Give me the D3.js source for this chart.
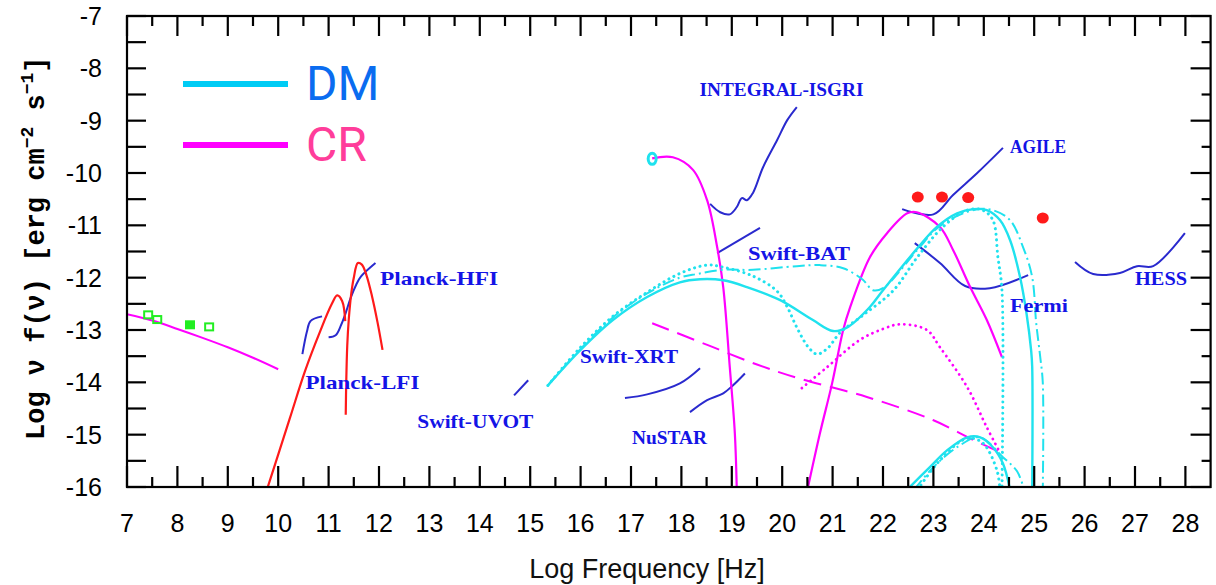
<!DOCTYPE html>
<html><head><meta charset="utf-8">
<script src="https://cdn.jsdelivr.net/npm/d3@7"></script>
<style>body{margin:0;background:#fff}svg{display:block}</style>
</head><body>
<svg id="c" width="1216" height="585"></svg>
<script>
// ---------- data (log frequency [Hz], log nu f(nu)) ----------
const xTickLabels = [7,8,9,10,11,12,13,14,15,16,17,18,19,20,21,22,23,24,25,26,27,28];
const yTickLabels = [-7,-8,-9,-10,-11,-12,-13,-14,-15,-16];

// DM (cyan)
const dmSolid = [[15.35,-14.06],[15.99,-13.39],[16.64,-12.81],[17.32,-12.37],[17.97,-12.09],[18.37,-12.03],[18.83,-12.05],[19.30,-12.18],[19.96,-12.43],[20.61,-12.81],[21.01,-13.02],[21.29,-12.95],[21.74,-12.56],[22.0,-12.24],[22.68,-11.44],[23.07,-11.03],[23.47,-10.77],[23.79,-10.69],[24.06,-10.71],[24.32,-10.90],[24.52,-11.28],[24.72,-11.99],[24.85,-12.7],[24.94,-13.4],[24.96,-13.7],[24.96,-16.1]];
const dmDotted = [[15.35,-14.06],[16.0,-13.33],[16.64,-12.74],[17.32,-12.28],[17.97,-11.92],[18.51,-11.76],[18.83,-11.80],[19.42,-11.97],[19.90,-12.26],[20.10,-12.56],[20.29,-12.95],[20.52,-13.33],[20.69,-13.46],[20.90,-13.35],[21.15,-13.05],[21.6,-12.72],[22.2,-12.25],[22.68,-11.61],[23.19,-11.03],[23.67,-10.71],[23.98,-10.71],[24.18,-10.90],[24.28,-11.61],[24.36,-12.24],[24.36,-16.1]];
const dmDashDot = [[15.35,-14.06],[16.0,-13.36],[16.64,-12.76],[17.32,-12.30],[17.97,-12.0],[18.31,-11.93],[18.83,-11.85],[19.42,-11.85],[20.29,-11.78],[20.75,-11.76],[21.21,-11.82],[21.6,-12.04],[21.8,-12.24],[22.0,-12.20],[22.68,-11.47],[23.07,-11.06],[23.47,-10.82],[23.90,-10.69],[24.18,-10.71],[24.52,-10.90],[24.78,-11.42],[24.96,-11.99],[25.04,-12.87],[25.12,-13.52],[25.17,-14.0],[25.17,-16.1]];
const dmSolidLow = [[22.48,-16.05],[22.93,-15.62],[23.27,-15.30],[23.67,-15.05],[23.93,-15.05],[24.18,-15.24],[24.38,-15.55],[24.52,-16.05]];
const dmDottedLow = [[22.69,-16.05],[23.13,-15.49],[23.67,-15.07],[23.98,-15.16],[24.26,-15.68],[24.32,-16.05]];
const dmDashDotLow = [[22.62,-16.05],[23.0,-15.62],[23.5,-15.22],[23.92,-15.05],[24.38,-15.43],[24.66,-15.70],[24.80,-16.05]];
const dmMarker = [[17.42,-9.73]];

// CR (magenta)
const crRadio = [[7,-12.7],[7.5,-12.82],[8,-12.98],[8.5,-13.15],[9,-13.33],[9.5,-13.53],[10,-13.75]];
const crXray = [[17.42,-9.72],[17.83,-9.70],[18.23,-9.94],[18.51,-10.52],[18.71,-11.42],[18.83,-12.18],[18.96,-13.71],[19.06,-14.97],[19.10,-16.1]];
const crGamma = [[20.49,-16.1],[20.75,-14.97],[20.99,-14.02],[21.21,-13.0],[21.35,-12.56],[21.74,-11.61],[22.08,-11.15],[22.48,-10.77],[22.67,-10.75],[23.13,-11.03],[23.39,-11.47],[23.73,-12.18],[24.06,-12.81],[24.36,-13.52]];
const crDashed = [[17.42,-12.87],[18.5,-13.28],[19.5,-13.66],[20.35,-13.93],[21.68,-14.28],[22.99,-14.72],[23.79,-15.10],[24.38,-15.36]];
const crDotted = [[20.39,-14.11],[20.89,-13.71],[21.54,-13.19],[22.0,-12.98],[22.34,-12.89],[22.87,-13.0],[23.13,-13.33],[23.67,-14.09],[24.06,-14.86],[24.32,-15.34]];

// Planck thermal (red)
const redA = [[9.76,-16.1],[10.23,-14.69],[10.53,-13.79],[10.83,-13.03],[11.06,-12.51],[11.17,-12.34],[11.27,-12.45],[11.33,-12.83]];
const redB = [[11.34,-14.62],[11.35,-14.0],[11.37,-13.3],[11.40,-12.8],[11.45,-12.3],[11.50,-12.0],[11.58,-11.72],[11.66,-11.75],[11.75,-11.95],[11.86,-12.35],[11.97,-12.85],[12.07,-13.38]];

// sensitivities (blue)
const planckLFI = [[10.48,-13.46],[10.57,-13.03],[10.64,-12.83],[10.87,-12.74]];
const planckHFI = [[11.0,-13.14],[11.14,-13.10],[11.25,-12.9],[11.33,-12.7],[11.44,-12.38],[11.55,-12.13],[11.64,-11.98],[11.93,-11.72]];
const swiftUVOT = [[14.68,-14.25],[14.96,-13.96]];
const swiftXRT = [[16.88,-14.30],[17.32,-14.23],[17.97,-14.02],[18.37,-13.73]];
const nuSTAR = [[18.17,-14.57],[18.51,-14.34],[18.83,-14.21],[19.02,-14.06],[19.26,-13.83]];
const swiftBAT = [[18.71,-11.53],[19.56,-11.05]];
const integral = [[18.57,-10.59],[18.77,-10.75],[18.96,-10.79],[19.10,-10.65],[19.20,-10.48],[19.30,-10.52],[19.42,-10.38],[19.62,-9.89],[19.90,-9.37],[20.10,-8.99],[20.29,-8.74]];
const agile = [[22.38,-10.69],[23.0,-10.79],[23.39,-10.42],[23.87,-10.0],[24.38,-9.52]];
const fermi = [[22.63,-11.34],[23.13,-11.72],[23.63,-12.16],[24.12,-12.2],[24.88,-11.95]];
const hess = [[25.81,-11.7],[26.17,-11.93],[26.70,-11.91],[27.04,-11.78],[27.36,-11.78],[27.99,-11.15]];

// measured points
const greenPoints = [[7.42,-12.72],[7.60,-12.81],[8.25,-12.91],[8.63,-12.95]];
const redPoints = [[22.69,-10.46],[23.17,-10.46],[23.69,-10.47],[25.17,-10.86]];

// instrument labels: [text, x(log Hz), y(log flux), width px]
const instrumentLabels = [
  ["INTEGRAL-ISGRI",18.36,-8.52,164],
  ["AGILE",24.52,-9.62,56],
  ["Planck-HFI",12.02,-12.14,118],
  ["Swift-BAT",19.32,-11.67,102],
  ["HESS",27.0,-12.14,52],
  ["Fermi",24.52,-12.66,58],
  ["Planck-LFI",10.54,-14.13,114],
  ["Swift-XRT",15.99,-13.64,98],
  ["Swift-UVOT",12.76,-14.88,116],
  ["NuSTAR",17.02,-15.17,75]
];
const legendItems = [["DM","#00ccf5","#0a6cf0"],["CR","#ff00ff","#ff3d9a"]];

// ---------- drawing ----------
const svg = d3.select("#c");
const x = d3.scaleLinear().domain([7,28.5]).range([127,1210.6]);
const y = d3.scaleLinear().domain([-16,-7]).range([487,16]);
const X0=x(7), X1=x(28.5), Y0=y(-7), Y1=y(-16);

const CYAN="#1fe2ee", MAG="#ff00ff", BLUE="#2a2ace", RED="#ff1a1a";

svg.append("defs").append("clipPath").attr("id","clip")
  .append("rect").attr("x",X0).attr("y",Y0).attr("width",X1-X0).attr("height",Y1-Y0);
const plot = svg.append("g").attr("clip-path","url(#clip)");

const line = d3.line().x(d=>x(d[0])).y(d=>y(d[1])).curve(d3.curveCatmullRom.alpha(0.5));
function draw(data,color,w,dash){
  const p = plot.append("path").datum(data).attr("d",line).attr("fill","none")
    .attr("stroke",color).attr("stroke-width",w).attr("stroke-linejoin","round");
  if(dash){p.attr("stroke-dasharray",dash.arr); if(dash.cap) p.attr("stroke-linecap",dash.cap);}
  return p;
}
const DOT={arr:"0.1 5.5",cap:"round"}, DASHDOT={arr:"12 4 2 4"}, DASH={arr:"18 9"};

// blue instruments
[planckLFI,planckHFI,swiftUVOT,swiftXRT,nuSTAR,swiftBAT,integral,agile,fermi,hess].forEach(d=>draw(d,BLUE,2));
// red thermal
draw(redA,RED,2.2); draw(redB,RED,2.2);
// CR
draw(crRadio,MAG,2); draw(crXray,MAG,2.2); draw(crGamma,MAG,2.2);
draw(crDashed,MAG,2,DASH); draw(crDotted,MAG,2.8,DOT);
// DM
draw(dmDotted,CYAN,3,DOT); draw(dmDashDot,CYAN,2,DASHDOT); draw(dmSolid,CYAN,2.4);
draw(dmDottedLow,CYAN,3,DOT); draw(dmDashDotLow,CYAN,2,DASHDOT); draw(dmSolidLow,CYAN,2.4);

plot.selectAll(".dmm").data(dmMarker).join("ellipse")
  .attr("cx",d=>x(d[0])).attr("cy",d=>y(d[1])).attr("rx",4).attr("ry",5.5)
  .attr("fill","none").attr("stroke",CYAN).attr("stroke-width",3);
plot.selectAll(".gp").data(greenPoints).join("rect")
  .attr("x",d=>x(d[0])-4).attr("y",d=>y(d[1])-4).attr("width",8).attr("height",7)
  .attr("fill",(d,i)=>i===2?"#22ee22":"none").attr("stroke","#22ee22").attr("stroke-width",2);
plot.selectAll(".rp").data(redPoints).join("ellipse")
  .attr("cx",d=>x(d[0])).attr("cy",d=>y(d[1])).attr("rx",6).attr("ry",5.5).attr("fill",RED);

// labels
svg.selectAll(".lab").data(instrumentLabels).join("text")
  .attr("x",d=>x(d[1])).attr("y",d=>y(d[2]))
  .attr("textLength",d=>d[3]).attr("lengthAdjust","spacingAndGlyphs")
  .attr("font-family","'Liberation Serif','DejaVu Serif',serif").attr("font-weight","bold")
  .attr("font-size",19).attr("fill","#1414e6").text(d=>d[0]);

// frame
svg.append("rect").attr("x",X0).attr("y",Y0).attr("width",X1-X0).attr("height",Y1-Y0)
  .attr("fill","none").attr("stroke","#000").attr("stroke-width",2.2);

// ticks
const tg = svg.append("g").attr("stroke","#000").attr("stroke-width",2.2);
const xMinor = d3.range(7.5,28.5,1), yMinor = d3.range(-15.5,-7,1);
xTickLabels.forEach(v=>{
  tg.append("line").attr("x1",x(v)).attr("x2",x(v)).attr("y1",Y1).attr("y2",Y1-21);
  tg.append("line").attr("x1",x(v)).attr("x2",x(v)).attr("y1",Y0).attr("y2",Y0+20);
});
xMinor.forEach(v=>{
  tg.append("line").attr("x1",x(v)).attr("x2",x(v)).attr("y1",Y1).attr("y2",Y1-10);
  tg.append("line").attr("x1",x(v)).attr("x2",x(v)).attr("y1",Y0).attr("y2",Y0+10);
});
yTickLabels.forEach(v=>{
  tg.append("line").attr("x1",X0).attr("x2",X0+19).attr("y1",y(v)).attr("y2",y(v));
  tg.append("line").attr("x1",X1).attr("x2",X1-20).attr("y1",y(v)).attr("y2",y(v));
});
yMinor.forEach(v=>{
  tg.append("line").attr("x1",X0).attr("x2",X0+19).attr("y1",y(v)).attr("y2",y(v));
  tg.append("line").attr("x1",X1).attr("x2",X1-9).attr("y1",y(v)).attr("y2",y(v));
});

// tick labels
const tf = "'Liberation Sans',Arial,sans-serif";
svg.append("g").selectAll("text").data(xTickLabels).join("text")
  .attr("x",d=>x(d)).attr("y",532).attr("text-anchor","middle")
  .attr("font-family",tf).attr("font-size",25).attr("fill","#000").text(d=>d);
svg.append("g").selectAll("text").data(yTickLabels).join("text")
  .attr("x",102).attr("y",d=>y(d)).attr("dy","0.36em").attr("text-anchor","end")
  .attr("font-family",tf).attr("font-size",25).attr("fill","#000").text(d=>d);

// axis titles
svg.append("text").attr("x",647).attr("y",578).attr("text-anchor","middle")
  .attr("font-family",tf).attr("font-size",27).attr("fill","#111").text("Log Frequency [Hz]");
const yt = svg.append("text").attr("transform","translate(44,440) rotate(-90)")
  .attr("text-anchor","start").attr("font-family","'Liberation Mono','DejaVu Sans Mono',monospace")
  .attr("font-weight","bold").attr("font-size",27).attr("fill","#000");
yt.append("tspan").text("Log ν f(ν) [erg cm");
yt.append("tspan").attr("dy",-11).attr("font-size",18).text("−2");
yt.append("tspan").attr("dy",11).text(" s");
yt.append("tspan").attr("dy",-11).attr("font-size",18).text("−1");
yt.append("tspan").attr("dy",11).text("]");

// legend
legendItems.forEach((d,i)=>{
  const ly = 84 + i*61;
  svg.append("line").attr("x1",183).attr("x2",288).attr("y1",ly).attr("y2",ly)
    .attr("stroke",d[1]).attr("stroke-width",6);
  svg.append("text").attr("x",306).attr("y",ly+16).attr("font-family","Roboto,'Noto Sans',sans-serif")
    .attr("font-size",48).attr("fill",d[2]).text(d[0]);
});
</script>
</body></html>
